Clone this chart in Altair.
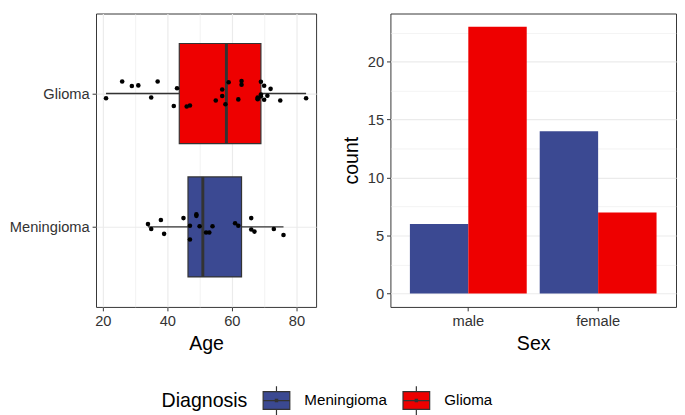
import altair as alt
import pandas as pd

# ---------------- data ----------------
diagnoses = ["Meningioma", "Glioma"]
colors = ["#3B4992", "#EE0000"]
box_pos = [1, 2]
q1 = [46.4, 43.7]
median = [51.0, 58.3]
q3 = [63.0, 69.0]
whisk_lo = [34, 21]
whisk_hi = [76, 83]

glioma_age = [21, 26, 29, 31, 35, 37, 42, 43, 46, 47, 55, 57, 57, 58, 59, 62,
              63, 63, 68, 68, 69, 69, 70, 70, 71, 72, 75, 83, 69, 68]
glioma_jit = [-0.035, 0.090, 0.056, 0.061, -0.030, 0.090, -0.094, 0.040, -0.097,
              -0.090, -0.052, 0.030, -0.019, -0.080, 0.085, -0.044, 0.094, 0.066,
              -0.042, -0.030, 0.088, -0.007, 0.059, -0.047, -0.016, 0.035, -0.052,
              -0.035, -0.021, -0.039]
men_age = [34, 35, 38, 39, 45, 47, 47, 49, 49, 50, 52, 53, 54, 61, 62, 66, 66,
           67, 73, 76]
men_jit = [0.021, -0.016, 0.052, -0.052, 0.066, 0.009, -0.094, 0.094, 0.083,
           0.005, -0.042, -0.042, 0.005, 0.028, 0.009, 0.066, -0.019, -0.035,
           -0.016, -0.061]

bar_sex = ["male", "male", "female", "female"]
bar_diag = ["Meningioma", "Glioma", "Meningioma", "Glioma"]
bar_count = [6, 23, 14, 7]

age_ticks = [20, 30, 40, 50, 60, 70, 80]
count_ticks = [0, 2.5, 5, 7.5, 10, 12.5, 15, 17.5, 20, 22.5]

# ---------------- frames ----------------
box_df = pd.DataFrame({"Diagnosis": diagnoses, "pos": box_pos, "q1": q1,
                       "median": median, "q3": q3, "lo": whisk_lo, "hi": whisk_hi})
pts_df = pd.DataFrame({
    "Diagnosis": ["Glioma"] * len(glioma_age) + ["Meningioma"] * len(men_age),
    "age": glioma_age + men_age,
    "jit": glioma_jit + men_jit,
    "pos": [2] * len(glioma_age) + [1] * len(men_age),
})
bar_df = pd.DataFrame({"Sex": bar_sex, "Diagnosis": bar_diag, "count": bar_count})

FONT = "Liberation Sans"
DARK = "#333333"

color_scale = alt.Scale(domain=diagnoses, range=colors)
legend_path = ("M-0.93,-0.62H0.93V0.62H-0.93Z M0,-1V-0.62 M0,0.62V1 "
               "M-0.93,0H0.93 M-0.08,-0.08H0.08V0.08H-0.08Z")
legend = alt.Legend(orient="none", legendX=67, legendY=380,
                    direction="horizontal", titleOrient="left",
                    symbolType=legend_path, symbolSize=860, symbolStrokeColor=DARK,
                    symbolStrokeWidth=1.2, symbolOpacity=1, titleFontSize=20,
                    titleFontWeight="normal", titleColor="black", labelFontSize=15.5,
                    labelColor="black", titlePadding=14, labelOffset=13,
                    columnPadding=13, titleBaseline="middle")

xs_left = alt.Scale(domain=[17.9, 86.1], nice=False, zero=False)
ys_left = alt.Scale(domain=[0.4, 2.6], nice=False, zero=False)
x_axis_left = alt.Axis(
    title="Age", values=age_ticks,
    labelExpr="datum.value % 20 === 0 ? datum.label : ''",
    tickOpacity={"condition": {"test": "datum.value % 20 === 0", "value": 1}, "value": 0},
    gridWidth={"condition": {"test": "datum.value % 20 === 0", "value": 1.2}, "value": 0.6},
)
y_axis_left = alt.Axis(title=None, values=[1, 2],
                       labelExpr="datum.value == 2 ? 'Glioma' : 'Meningioma'",
                       gridWidth=1.2)


def X(field):
    return alt.X(field, type="quantitative", scale=xs_left, axis=x_axis_left)


def Y(field):
    return alt.Y(field, type="quantitative", scale=ys_left, axis=y_axis_left)


whisk = alt.Chart(box_df).mark_rule(color=DARK, strokeWidth=1.4).encode(
    x=X("lo"), x2="hi", y=Y("pos"))
box = alt.Chart(box_df).transform_calculate(
    b0="datum.pos - 0.375", b1="datum.pos + 0.375"
).mark_rect(stroke=DARK, strokeWidth=1.2).encode(
    x=X("q1"), x2="q3", y=Y("b0"), y2="b1",
    fill=alt.Fill("Diagnosis:N", scale=color_scale, legend=legend))
med = alt.Chart(box_df).transform_calculate(
    b0="datum.pos - 0.375", b1="datum.pos + 0.375"
).mark_rule(color=DARK, strokeWidth=3).encode(x=X("median"), y=Y("b0"), y2="b1")
pts = alt.Chart(pts_df).transform_calculate(yy="datum.pos + datum.jit").mark_circle(
    color="black", size=22, opacity=1).encode(x=X("age"), y=Y("yy"))

left = alt.layer(whisk, box, med, pts).properties(width=225, height=300)

right = alt.Chart(bar_df).mark_bar().encode(
    x=alt.X("Sex:N", sort=["male", "female"],
            scale=alt.Scale(paddingInner=0.1, paddingOuter=0.15),
            axis=alt.Axis(title="Sex", labelAngle=0, bandPosition=0.5, gridWidth=1.2)),
    xOffset=alt.XOffset("Diagnosis:N",
                        scale=alt.Scale(domain=diagnoses, paddingInner=0, paddingOuter=0)),
    y=alt.Y("count:Q", scale=alt.Scale(domain=[-1.15, 24.15], nice=False, zero=False),
            axis=alt.Axis(
                title="count", values=count_ticks, titlePadding=6,
                labelExpr="datum.value % 5 === 0 ? datum.label : ''",
                tickOpacity={"condition": {"test": "datum.value % 5 === 0", "value": 1}, "value": 0},
                gridWidth={"condition": {"test": "datum.value % 5 === 0", "value": 1.2}, "value": 0.6},
            )),
    y2=alt.datum(0),
    fill=alt.Fill("Diagnosis:N", scale=color_scale, legend=legend),
).properties(width=292, height=300)

chart = alt.hconcat(left, right, spacing=24).resolve_scale(fill="shared").properties(
    padding=0
).configure(font=FONT).configure_view(
    stroke=DARK, strokeWidth=1
).configure_axis(
    labelFont=FONT, labelFontSize=15, labelColor="#333333",
    titleFont=FONT, titleFontSize=20, titleFontWeight="normal", titleColor="black",
    tickColor=DARK, tickSize=4, tickWidth=1, domain=False,
    gridColor="#EBEBEB", labelPadding=3, titlePadding=6,
).configure_legend(labelFont=FONT, titleFont=FONT)

chart.save("out.html", embed_options={"renderer": "svg", "actions": False})
